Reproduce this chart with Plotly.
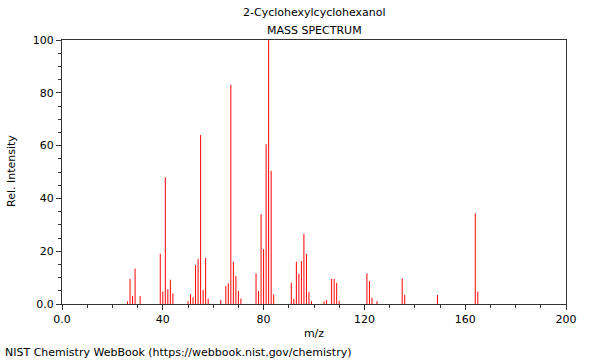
import plotly.graph_objects as go

mz = [26, 27, 28, 29, 31, 39, 40, 41, 42, 43, 44, 50, 51, 52, 53, 54, 55, 56, 57, 58,
      63, 65, 66, 67, 68, 69, 70, 71, 77, 78, 79, 80, 81, 82, 83, 84,
      91, 92, 93, 94, 95, 96, 97, 98, 99, 104, 105, 107, 108, 109, 110,
      121, 122, 123, 125, 135, 136, 149, 164, 165]
intensity = [1.0, 9.5, 3.0, 13.4, 3.0, 19.0, 4.7, 48.0, 5.6, 9.2, 4.0, 1.1, 3.7, 2.6, 14.8, 17.0, 64.0, 5.3, 17.4, 2.0,
             1.5, 6.8, 7.8, 83.0, 16.0, 10.6, 4.9, 2.1, 11.6, 4.9, 34.0, 20.8, 60.5, 100.0, 50.4, 3.6,
             8.0, 1.9, 16.0, 11.5, 16.3, 26.6, 19.0, 4.5, 1.1, 1.0, 1.5, 9.5, 9.5, 8.0, 1.2,
             11.6, 8.7, 2.4, 1.1, 9.7, 3.4, 3.4, 34.3, 4.7]

x_major = [0, 40, 80, 120, 160, 200]
x_labels = ["0.0", "40", "80", "120", "160", "200"]
y_major = [0, 20, 40, 60, 80, 100]
y_labels = ["0.0", "20", "40", "60", "80", "100"]

title_line1 = "2-Cyclohexylcyclohexanol"
title_line2 = "MASS SPECTRUM"
y_title = "Rel. Intensity"
footer = "NIST Chemistry WebBook (https://webbook.nist.gov/chemistry)"

xs, ys = [], []
for m, v in zip(mz, intensity):
    xs += [m, m, None]
    ys += [0, v, None]

fig = go.Figure()
fig.add_trace(go.Scatter(x=xs, y=ys, mode="lines",
                         line=dict(color="#ff0000", width=1),
                         hoverinfo="skip", showlegend=False))

font = dict(family="DejaVu Sans", size=11, color="#000000")

W, H = 600, 360
L, R, T, B = 62, 34, 40, 56

fig.update_layout(
    width=W, height=H,
    margin=dict(l=L, r=R, t=T, b=B, autoexpand=False),
    paper_bgcolor="white", plot_bgcolor="white",
    font=font,
    showlegend=False,
    xaxis=dict(range=[0, 200], showgrid=False, zeroline=False,
               showline=True, linecolor="#333333", linewidth=1, mirror=True,
               ticks="outside", ticklen=5, tickcolor="#333333",
               tickvals=x_major, ticktext=x_labels, tickfont=font,
               minor=dict(dtick=10, tick0=0, ticks="outside", ticklen=3, tickcolor="#333333"),
               title=dict(text="m/z", font=font, standoff=4)),
    yaxis=dict(range=[0, 100], showgrid=False, zeroline=False,
               showline=True, linecolor="#333333", linewidth=1, mirror=True,
               ticks="outside", ticklen=5, tickcolor="#333333",
               tickvals=y_major, ticktext=y_labels, tickfont=font,
               minor=dict(dtick=5, tick0=0, ticks="outside", ticklen=3, tickcolor="#333333")),
)

plot_h = H - T - B
plot_w = W - L - R
def ypaper(py):
    return (H - B - py) / plot_h
def xpaper(px):
    return (px - L) / plot_w

fig.add_annotation(text=title_line1, x=0.5, y=ypaper(13), xref="paper", yref="paper",
                   showarrow=False, font=font, xanchor="center", yanchor="middle")
fig.add_annotation(text=title_line2, x=0.5, y=ypaper(30), xref="paper", yref="paper",
                   showarrow=False, font=font, xanchor="center", yanchor="middle")
fig.add_annotation(text=y_title, x=xpaper(11), y=ypaper(171), xref="paper", yref="paper",
                   showarrow=False, font=font, xanchor="center", yanchor="middle", textangle=-90)
fig.add_annotation(text=footer, x=xpaper(3), y=ypaper(352), xref="paper", yref="paper",
                   showarrow=False, font=font, xanchor="left", yanchor="middle")

fig.write_html("out.html", config={"displayModeBar": False},
               post_script="document.body.style.margin='0';")
